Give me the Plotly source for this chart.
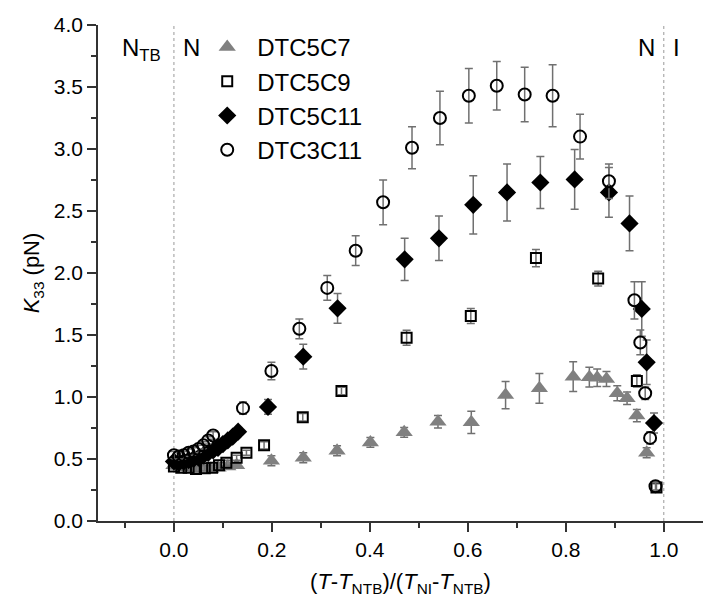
import plotly.graph_objects as go

# ---- data ----
c7_x = [0.0, 0.015, 0.03, 0.045, 0.06, 0.075, 0.09, 0.11, 0.128, 0.199, 0.264, 0.333, 0.401, 0.47, 0.539,
        0.607, 0.677, 0.746, 0.815, 0.848, 0.864, 0.883, 0.905, 0.925, 0.945, 0.965]
c7_y = [0.45, 0.44, 0.43, 0.42, 0.42, 0.42, 0.43, 0.44, 0.45, 0.486, 0.51, 0.567, 0.634, 0.715, 0.80,
        0.796, 1.016, 1.07, 1.164, 1.16, 1.155, 1.145, 1.03, 0.99, 0.85, 0.55]
c7_e = [0.02, 0.02, 0.02, 0.02, 0.02, 0.02, 0.02, 0.02, 0.02, 0.04, 0.04, 0.04, 0.04, 0.04, 0.05,
        0.09, 0.11, 0.12, 0.12, 0.08, 0.07, 0.06, 0.06, 0.05, 0.05, 0.04]

c9_x = [0.0, 0.015, 0.03, 0.045, 0.063, 0.078, 0.092, 0.107, 0.128, 0.148, 0.184, 0.263, 0.342, 0.475,
        0.606, 0.739, 0.866, 0.945, 0.985]
c9_y = [0.44, 0.43, 0.43, 0.42, 0.425, 0.43, 0.45, 0.47, 0.51, 0.55, 0.61, 0.836, 1.048, 1.478,
        1.653, 2.12, 1.955, 1.13, 0.27]
c9_e = [0.02, 0.02, 0.02, 0.02, 0.02, 0.02, 0.02, 0.02, 0.02, 0.02, 0.03, 0.03, 0.03, 0.06,
        0.06, 0.07, 0.06, 0.05, 0.03]

c11_x = [0.0, 0.01, 0.02, 0.03, 0.04, 0.05, 0.06, 0.07, 0.08, 0.09, 0.10, 0.11, 0.12, 0.131, 0.192,
         0.264, 0.334, 0.471, 0.541, 0.611, 0.68, 0.748, 0.818, 0.888, 0.93, 0.955, 0.965, 0.98]
c11_y = [0.48, 0.47, 0.48, 0.49, 0.50, 0.51, 0.53, 0.55, 0.57, 0.59, 0.62, 0.65, 0.68, 0.72, 0.92,
         1.325, 1.715, 2.11, 2.28, 2.55, 2.65, 2.73, 2.755, 2.65, 2.40, 1.71, 1.28, 0.79]
c11_e = [0.03] * 14 + [0.06, 0.10, 0.12, 0.17, 0.18, 0.235, 0.23, 0.21, 0.24, 0.20, 0.22, 0.22, 0.18, 0.08]

c3_x = [0.0, 0.01, 0.02, 0.03, 0.04, 0.05, 0.06, 0.07, 0.08, 0.141, 0.199, 0.256, 0.313, 0.371, 0.427,
        0.486, 0.543, 0.602, 0.659, 0.716, 0.773, 0.829, 0.888, 0.94, 0.952, 0.962, 0.972, 0.983]
c3_y = [0.53, 0.52, 0.53, 0.55, 0.56, 0.58, 0.61, 0.65, 0.69, 0.91, 1.21, 1.55, 1.88, 2.18, 2.57,
        3.01, 3.25, 3.43, 3.51, 3.44, 3.43, 3.10, 2.74, 1.78, 1.44, 1.03, 0.67, 0.28]
c3_e = [0.03] * 9 + [0.05, 0.07, 0.08, 0.10, 0.12, 0.18, 0.17, 0.215, 0.22, 0.195, 0.22, 0.25, 0.18,
                     0.14, 0.15, 0.10, 0.05, 0.05, 0.03]

x_ticks = [0.0, 0.2, 0.4, 0.6, 0.8, 1.0]
y_ticks = [0.0, 0.5, 1.0, 1.5, 2.0, 2.5, 3.0, 3.5, 4.0]

FONT = "Arial, Liberation Sans, sans-serif"
ERR = "#707070"

fig = go.Figure()

def err(arr):
    return dict(type="data", array=arr, visible=True, color=ERR, thickness=1.5, width=4)

fig.add_trace(go.Scatter(x=c7_x, y=c7_y, mode="markers", name="DTC5C7", error_y=err(c7_e),
                         marker=dict(symbol="triangle-up", size=15, color="#808080",
                                     line=dict(width=0))))
fig.add_trace(go.Scatter(x=c9_x, y=c9_y, mode="markers", name="DTC5C9", error_y=err(c9_e),
                         marker=dict(symbol="square-open", size=10, color="black",
                                     line=dict(width=2, color="black"))))
fig.add_trace(go.Scatter(x=c11_x, y=c11_y, mode="markers", name="DTC5C11", error_y=err(c11_e),
                         marker=dict(symbol="diamond", size=14, color="black",
                                     line=dict(width=0))))
fig.add_trace(go.Scatter(x=c3_x, y=c3_y, mode="markers", name="DTC3C11", error_y=err(c3_e),
                         marker=dict(symbol="circle-open", size=12, color="black",
                                     line=dict(width=2, color="black"))))

# phase boundaries
for xv in [0.0, 1.0]:
    fig.add_shape(type="line", x0=xv, x1=xv, y0=0, y1=4.0, xref="x", yref="y",
                  line=dict(color="#999999", width=1, dash="dot"), layer="below")

ann_font = dict(family=FONT, size=24, color="black")
fig.add_annotation(x=-0.067, y=3.80, text="N<sub>TB</sub>", showarrow=False, font=ann_font,
                   xref="x", yref="y")
fig.add_annotation(x=0.035, y=3.82, text="N", showarrow=False, font=ann_font, xref="x", yref="y")
fig.add_annotation(x=0.965, y=3.82, text="N", showarrow=False, font=ann_font, xref="x", yref="y")
fig.add_annotation(x=1.025, y=3.82, text="I", showarrow=False, font=ann_font, xref="x", yref="y")

fig.update_layout(
    width=709, height=605,
    margin=dict(l=98, r=6, t=25, b=84),
    plot_bgcolor="white", paper_bgcolor="white",
    font=dict(family=FONT, size=21, color="black"),
    showlegend=True,
    legend=dict(x=0.164, y=1.0, xanchor="left", yanchor="top", bgcolor="rgba(0,0,0,0)",
                font=dict(family=FONT, size=24, color="black"), tracegroupgap=0,
                itemsizing="trace", itemwidth=50),
    xaxis=dict(range=[-0.155, 1.08], tickvals=x_ticks, ticktext=["%.1f" % v for v in x_ticks],
               ticks="outside", ticklen=9, tickwidth=1.5, tickcolor="#333",
               minor=dict(dtick=0.1, ticks="outside", ticklen=5, tickwidth=1.5, tickcolor="#333"),
               showline=True, linecolor="#333", linewidth=1.5, showgrid=False, zeroline=False,
               tickfont=dict(size=21),
               title=dict(text="(<i>T</i>-<i>T</i><sub>NTB</sub>)/(<i>T</i><sub>NI</sub>-<i>T</i><sub>NTB</sub>)",
                          font=dict(size=22), standoff=14)),
    yaxis=dict(range=[0, 4.0], tickvals=y_ticks, ticktext=["%.1f" % v for v in y_ticks],
               ticks="outside", ticklen=9, tickwidth=1.5, tickcolor="#333",
               minor=dict(dtick=0.25, ticks="outside", ticklen=5, tickwidth=1.5, tickcolor="#333"),
               showline=True, linecolor="#333", linewidth=1.5, showgrid=False, zeroline=False,
               tickfont=dict(size=21),
               title=dict(text="<i>K</i><sub>33</sub> (pN)", font=dict(size=22), standoff=8)),
)

fig.write_html("out.html")
